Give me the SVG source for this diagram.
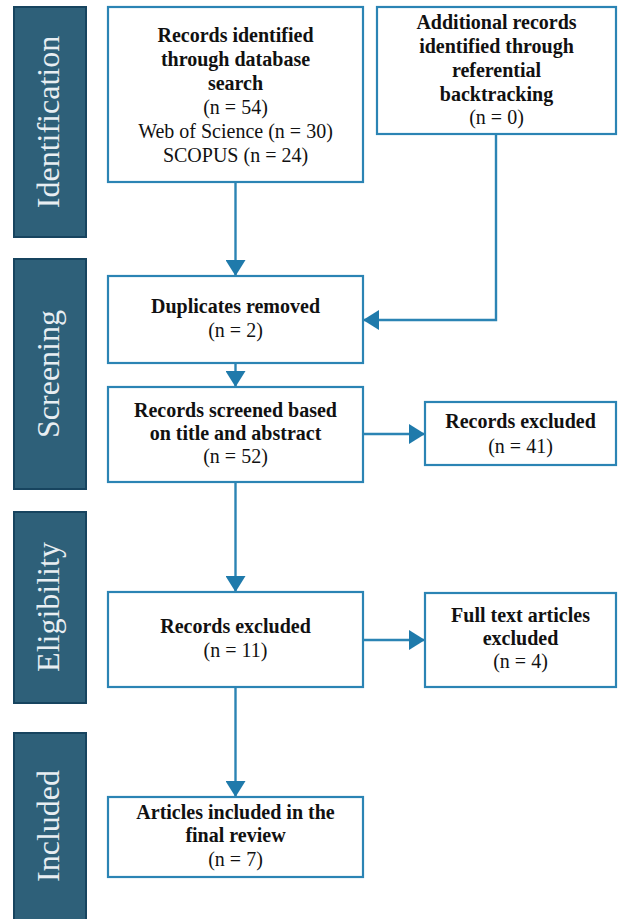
<svg xmlns="http://www.w3.org/2000/svg" width="619" height="919" viewBox="0 0 619 919">
<style>
.bar{fill:#2e6079;stroke:#17445f;stroke-width:2}
.bar-t{font-family:"Liberation Serif",serif;font-size:32px;fill:#e8eef2;text-anchor:middle}
.box{fill:#fff;stroke:#2b84b4;stroke-width:2.2}
.t{font-family:"Liberation Serif","Times New Roman",serif;font-size:20px;fill:#111;text-anchor:middle}
.b{font-weight:bold}
.c{fill:none;stroke:#2b84b4;stroke-width:2.4}
</style>
<defs>
<marker id="ah" markerUnits="userSpaceOnUse" viewBox="0 0 16 20" refX="16" refY="10" markerWidth="16" markerHeight="20" orient="auto">
<path d="M0,0 L16,10 L0,20 z" fill="#1f7aab"/>
</marker>
</defs>
<rect width="619" height="919" fill="#fff"/>
<g id="phase-identification"><rect class="bar" x="14" y="7" width="72" height="230"/><text class="bar-t" transform="translate(59,122) rotate(-90)">Identification</text></g>
<g id="phase-screening"><rect class="bar" x="14" y="259" width="72" height="230"/><text class="bar-t" transform="translate(59,374) rotate(-90)">Screening</text></g>
<g id="phase-eligibility"><rect class="bar" x="14" y="512" width="72" height="191"/><text class="bar-t" transform="translate(59,607) rotate(-90)">Eligibility</text></g>
<g id="phase-included"><rect class="bar" x="14" y="733" width="72" height="200"/><text class="bar-t" transform="translate(59,826) rotate(-90)">Included</text></g>
<g id="connectors">
<path class="c" d="M235.5,182 V276" marker-end="url(#ah)"/>
<path class="c" d="M496,134 V320 H363" marker-end="url(#ah)"/>
<path class="c" d="M235.5,363 V387" marker-end="url(#ah)"/>
<path class="c" d="M363,434 H425" marker-end="url(#ah)"/>
<path class="c" d="M235.5,482 V592" marker-end="url(#ah)"/>
<path class="c" d="M363,640 H425" marker-end="url(#ah)"/>
<path class="c" d="M235.5,687 V797" marker-end="url(#ah)"/>
</g>
<g id="n-database"><rect class="box" x="108" y="7" width="255" height="175"/>
<text class="t b" x="235.5" y="42">Records identified</text>
<text class="t b" x="235.5" y="66">through database</text>
<text class="t b" x="235.5" y="90">search</text>
<text class="t" x="235.5" y="114">(n = 54)</text>
<text class="t" x="235.5" y="138">Web of Science (n = 30)</text>
<text class="t" x="235.5" y="162">SCOPUS (n = 24)</text></g>
<g id="n-additional"><rect class="box" x="377" y="7" width="239" height="127"/>
<text class="t b" x="496.5" y="29">Additional records</text>
<text class="t b" x="496.5" y="53">identified through</text>
<text class="t b" x="496.5" y="77">referential</text>
<text class="t b" x="496.5" y="101">backtracking</text>
<text class="t" x="496.5" y="124">(n = 0)</text></g>
<g id="n-duplicates"><rect class="box" x="108" y="276" width="255" height="87"/>
<text class="t b" x="235.5" y="313">Duplicates removed</text>
<text class="t" x="235.5" y="337">(n = 2)</text></g>
<g id="n-screened"><rect class="box" x="108" y="387" width="255" height="95"/>
<text class="t b" x="235.5" y="417">Records screened based</text>
<text class="t b" x="235.5" y="440">on title and abstract</text>
<text class="t" x="235.5" y="463">(n = 52)</text></g>
<g id="n-excluded41"><rect class="box" x="425" y="402" width="191" height="63"/>
<text class="t b" x="520.5" y="428">Records excluded</text>
<text class="t" x="520.5" y="453">(n = 41)</text></g>
<g id="n-excluded11"><rect class="box" x="108" y="592" width="255" height="95"/>
<text class="t b" x="235.5" y="633">Records excluded</text>
<text class="t" x="235.5" y="657">(n = 11)</text></g>
<g id="n-fulltext"><rect class="box" x="425" y="593" width="191" height="94"/>
<text class="t b" x="520.5" y="622">Full text articles</text>
<text class="t b" x="520.5" y="645">excluded</text>
<text class="t" x="520.5" y="668">(n = 4)</text></g>
<g id="n-included"><rect class="box" x="108" y="797" width="255" height="80"/>
<text class="t b" x="235.5" y="819">Articles included in the</text>
<text class="t b" x="235.5" y="842">final review</text>
<text class="t" x="235.5" y="866">(n = 7)</text></g>
</svg>
